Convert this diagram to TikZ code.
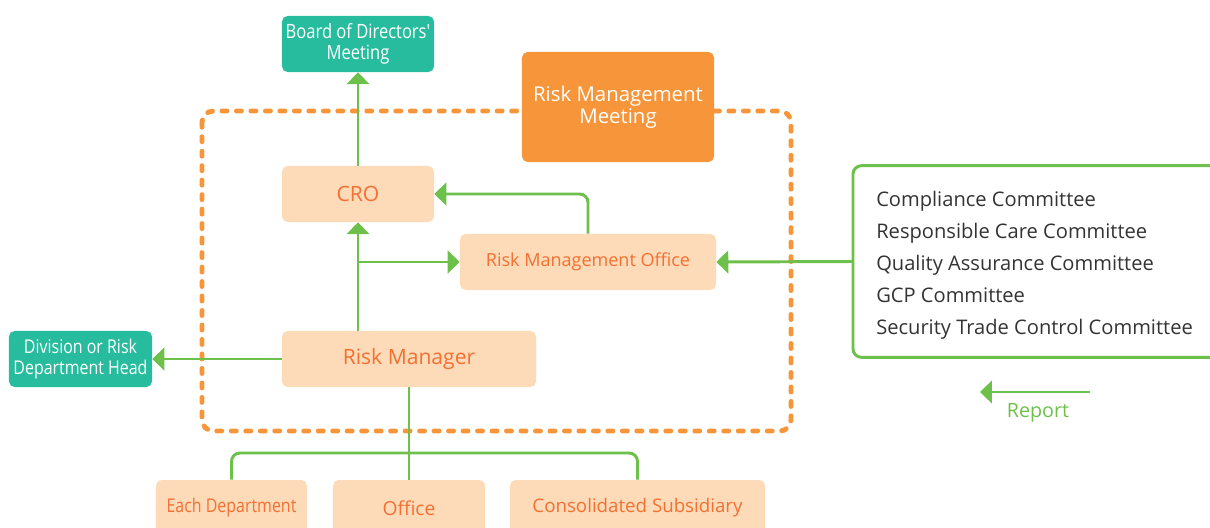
\documentclass[tikz,border=0pt]{standalone}
\usepackage{fontspec}
\setmainfont{Open Sans}
\newfontfamily\narrowfont[FakeStretch=0.84]{Open Sans}
\usetikzlibrary{arrows.meta}

\definecolor{teal}{RGB}{38,188,157}
\definecolor{meetorange}{RGB}{247,149,58}
\definecolor{peach}{RGB}{253,219,184}
\definecolor{peachtext}{RGB}{243,112,50}
\definecolor{linegreen}{RGB}{109,192,74}
\definecolor{listgray}{RGB}{51,51,51}

\begin{document}
\begin{tikzpicture}[x=0.025cm,y=-0.025cm,
    greenbox/.style={fill=teal,text=white,rounded corners=4pt,align=center,
        minimum height=1.4cm,inner sep=0pt,font=\narrowfont\fontsize{14}{15}\selectfont},
    peachbox/.style={fill=peach,text=peachtext,rounded corners=4pt,align=center,
        minimum height=1.4cm,inner sep=0pt},
    link/.style={draw=linegreen,line width=2.1pt},
    tip/.style={-{Triangle[length=8.5pt,width=16pt]}}]
    \useasboundingbox (0,0) rectangle (1210,527);

    % the dashed frame
    \draw[meetorange,line width=3.5pt,line cap=round,dash pattern=on 3.5pt off 6.8pt,
        rounded corners=8pt] (202,111) rectangle (791,431);

    % boxes
    \node[greenbox,minimum width=3.8cm] (board) at (358,44) {Board of Directors'\\Meeting};
    \node[fill=meetorange,text=white,rounded corners=4pt,align=center,minimum width=4.8cm,
        minimum height=2.75cm,font=\fontsize{14.5}{15.8}\selectfont] (rmm) at (618,107) {Risk Management\\Meeting};
    \node[peachbox,minimum width=3.8cm,font=\fontsize{15}{18}\selectfont] (cro) at (358,194) {CRO};
    \node[peachbox,minimum width=6.4cm,font=\fontsize{12.8}{15}\selectfont] (rmo) at (588,262) {Risk Management Office};
    \node[peachbox,minimum width=6.35cm,font=\fontsize{15}{18}\selectfont] (rmgr) at (409,359) {\raisebox{-2pt}{Risk Manager}};
    \node[greenbox,minimum width=3.575cm,font=\narrowfont\fontsize{13.5}{15}\selectfont] (div) at (80.5,359) {Division or Risk\\Department Head};

    % bottom row, cut by the page edge
    \node[peachbox,minimum width=3.775cm,font=\narrowfont\fontsize{13.5}{16}\selectfont] (dept) at (231.5,508) {Each Department};
    \node[peachbox,minimum width=3.8cm,font=\fontsize{13.7}{16}\selectfont] (office) at (409,508) {Office};
    \node[peachbox,minimum width=6.375cm,font=\fontsize{13.3}{16}\selectfont] (cons) at (637.5,508) {Consolidated Subsidiary};

    % committees
    \node[minimum width=10cm,minimum height=4.775cm,anchor=west] (commframe) at (853,261.5) {};
    \draw[linegreen,line width=2.1pt,rounded corners=6pt] (commframe.north east) -- (commframe.north west)
        -- (commframe.south west) -- (commframe.south east);
    \node[anchor=west,text=listgray,align=left,inner sep=0pt,
        font=\fontsize{14.3}{22.8}\selectfont] (comm) at (876,265.5)
        {Compliance Committee\\Responsible Care Committee\\Quality Assurance Committee\\GCP Committee\\Security Trade Control Committee};

    % connectors
    \draw[link,tip] (cro) -- (board);
    \draw[link,tip] (rmgr.north -| cro) -- (cro);
    \coordinate (split) at (cro |- rmo);
    \draw[link,tip] (split) -- (rmo);
    \draw[link,tip,rounded corners=6pt] (rmo.north) |- (cro.east);
    \draw[link,tip] (commframe.west) -- (rmo.east);
    \draw[link,tip] (rmgr.west) -- (div.east);
    \draw[link] (rmgr.south) -- (office.north);
    \coordinate (bus) at (409,453);
    \draw[link,rounded corners=6pt] (dept.north) |- (bus) -| (cons.north);

    % legend
    \coordinate (repa) at (1090,392);
    \coordinate (repb) at (980,392);
    \draw[link,tip] (repa) -- (repb);
    \node[text=linegreen,font=\fontsize{14}{16}\selectfont] (reptext) at (1038,413) {Report};

\end{tikzpicture}
\end{document}
